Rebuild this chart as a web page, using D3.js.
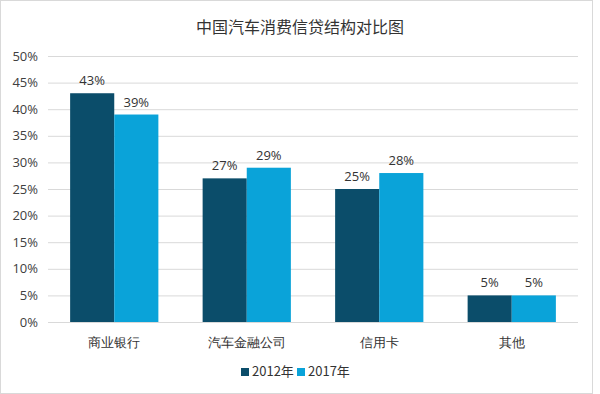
<!DOCTYPE html>
<html>
<head>
<meta charset="utf-8">
<script src="https://cdn.jsdelivr.net/npm/d3@7"></script>
<style>
  body { margin: 0; background: #fff; }
  svg { display: block; font-family: "Noto Sans CJK SC", "Open Sans", sans-serif; }
</style>
</head>
<body>
<svg id="chart"></svg>
<script>
var w = 600;
var h = 394;

// data
var categories = ["商业银行", "汽车金融公司", "信用卡", "其他"];
var seriesNames = ["2012年", "2017年"];
var values2012 = [43, 27, 25, 5];
var values2017 = [39, 29, 28, 5];
var yTicks = [0, 5, 10, 15, 20, 25, 30, 35, 40, 45, 50];

var colors = ["#0b4d6a", "#0aa3d9"];
var margin = {top: 56, right: 22, bottom: 72, left: 48};

var svg = d3.select("#chart").attr("width", w).attr("height", h);

// outer frame like the picture
svg.append("rect")
  .attr("x", 0.5).attr("y", 0.5)
  .attr("width", w - 8).attr("height", h - 1)
  .attr("fill", "#fff")
  .attr("stroke", "#d9d9d9");

var x = d3.scaleBand()
  .domain(categories)
  .range([margin.left, w - margin.right])
  .paddingInner(0.334)
  .paddingOuter(0.167);

var x1 = d3.scaleBand()
  .domain(seriesNames)
  .range([0, x.bandwidth()]);

var y = d3.scaleLinear()
  .domain([0, 50])
  .range([h - margin.bottom, margin.top]);

// title
svg.append("text")
  .attr("x", 300).attr("y", 33)
  .attr("text-anchor", "middle")
  .style("font-size", "16px")
  .style("fill", "#333")
  .text("中国汽车消费信贷结构对比图");

// gridlines
svg.selectAll(".grid")
  .data(yTicks)
  .enter()
  .append("line")
  .attr("class", "grid")
  .attr("x1", margin.left)
  .attr("x2", w - margin.right)
  .attr("y1", function(d){ return y(d) + 0.5; })
  .attr("y2", function(d){ return y(d) + 0.5; })
  .style("stroke", "#d9d9d9")
  .style("stroke-width", 1);

// y axis labels
var yAxis = d3.axisLeft(y)
  .tickValues(yTicks)
  .tickSize(0)
  .tickPadding(10)
  .tickFormat(function(d){ return d + "%"; });

var gy = svg.append("g")
  .attr("transform", "translate(" + margin.left + ",0)")
  .call(yAxis);
gy.select(".domain").remove();
gy.selectAll("text")
  .style("font-size", "13px")
  .style("fill", "#404040")
  .style("font-family", "'Open Sans', sans-serif");

// x axis labels
var xAxis = d3.axisBottom(x).tickSize(0).tickPadding(16);
var gx = svg.append("g")
  .attr("transform", "translate(0," + (h - margin.bottom) + ")")
  .call(xAxis);
gx.select(".domain").remove();
gx.selectAll("text")
  .style("font-size", "13px")
  .style("fill", "#333");

// bars
var rows = categories.map(function(c, i){
  return {cat: c, vals: [values2012[i], values2017[i]]};
});

var groups = svg.selectAll(".group")
  .data(rows)
  .enter()
  .append("g")
  .attr("class", "group")
  .attr("transform", function(d){ return "translate(" + x(d.cat) + ",0)"; });

groups.selectAll("rect")
  .data(function(d){
    return d.vals.map(function(v, j){ return {s: seriesNames[j], v: v, j: j}; });
  })
  .enter()
  .append("rect")
  .attr("x", function(d){ return x1(d.s); })
  .attr("y", function(d){ return y(d.v); })
  .attr("width", x1.bandwidth())
  .attr("height", function(d){ return y(0) - y(d.v); })
  .style("fill", function(d){ return colors[d.j]; });

groups.selectAll(".lbl")
  .data(function(d){
    return d.vals.map(function(v, j){ return {s: seriesNames[j], v: v}; });
  })
  .enter()
  .append("text")
  .attr("class", "lbl")
  .attr("x", function(d){ return x1(d.s) + x1.bandwidth() / 2; })
  .attr("y", function(d){ return y(d.v) - 8; })
  .attr("text-anchor", "middle")
  .style("font-size", "13px")
  .style("fill", "#333")
  .style("font-family", "'Open Sans', sans-serif")
  .text(function(d){ return d.v + "%"; });

// legend
var legendX = [241, 297];
var legend = svg.selectAll(".legend")
  .data(seriesNames)
  .enter()
  .append("g")
  .attr("class", "legend")
  .attr("transform", function(d, i){ return "translate(" + legendX[i] + ",376)"; });

legend.append("rect")
  .attr("x", 0).attr("y", -8)
  .attr("width", 8).attr("height", 8)
  .style("fill", function(d, i){ return colors[i]; });

legend.append("text")
  .attr("x", 11).attr("y", 0)
  .style("font-size", "13px")
  .style("fill", "#333")
  .text(function(d){ return d; });
</script>
</body>
</html>
